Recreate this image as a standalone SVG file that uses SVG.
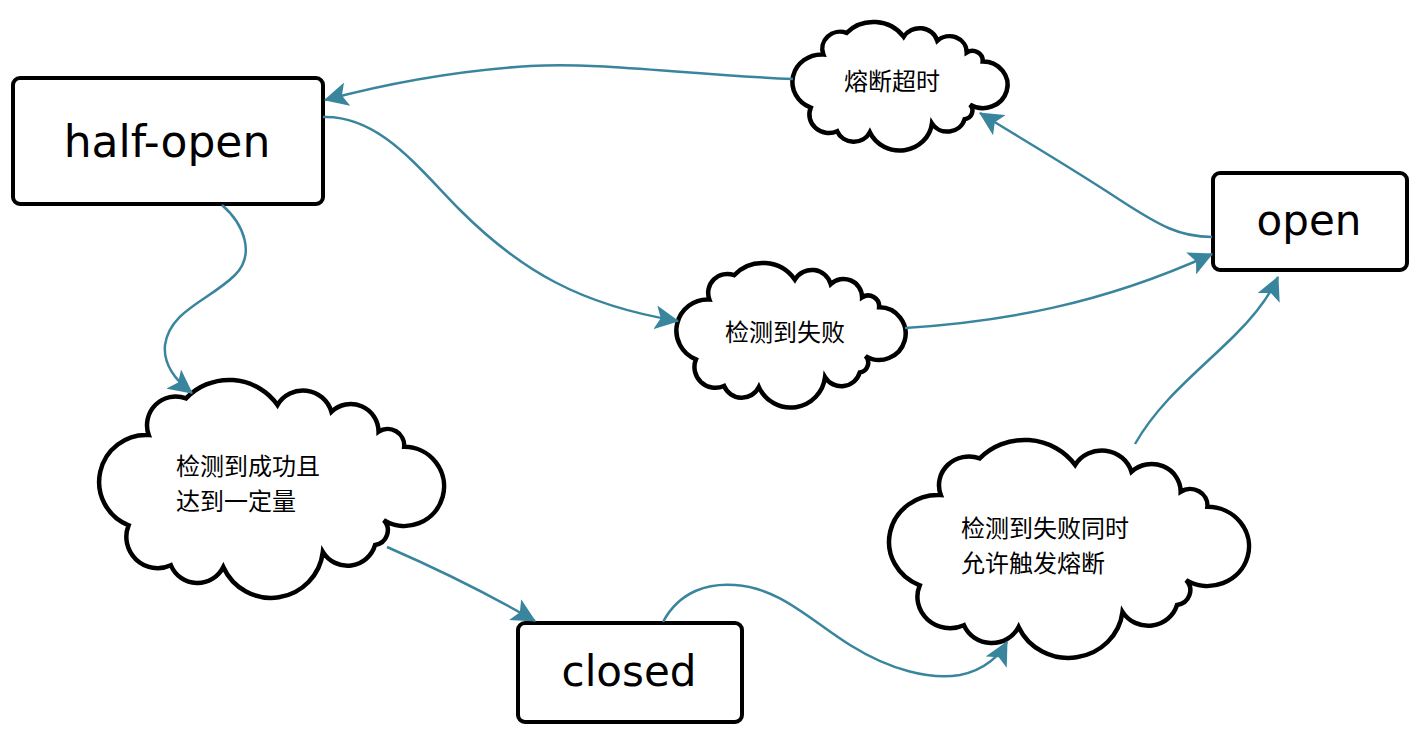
<svg xmlns="http://www.w3.org/2000/svg" xmlns:xlink="http://www.w3.org/1999/xlink" width="1422" height="741" viewBox="0 0 1422 741">
  <style>
    .box { fill: #ffffff; stroke: #000000; stroke-width: 4; }
    .cloud { fill: #ffffff; stroke: #000000; stroke-width: 4.5; }
    .state { font-family: "DejaVu Sans", "Liberation Sans", sans-serif; fill: #000000; text-anchor: middle; }
    .label { font-family: "Noto Sans CJK SC", "Noto Sans", sans-serif; font-size: 24px; fill: #000000; }
    .edge { fill: none; stroke: #3a859e; stroke-width: 2.5; marker-end: url(#arrow); }
  </style>
  <defs>
    <marker id="arrow" viewBox="0 0 22 22" refX="21" refY="11" markerWidth="24" markerHeight="24" markerUnits="userSpaceOnUse" orient="auto">
      <path d="M0,0 L22,11 L0,22 L5,11 Z" fill="#3a859e"/>
    </marker>
    <path id="cloudShape" vector-effect="non-scaling-stroke" d="M19.4,83.7 A27,27 0 0 1 31,31.7 A16.5,16.5 0 0 1 52.4,10.6 A34,34 0 0 1 104.9,14.4 A17,17 0 0 1 135.9,18.3 A16,16 0 0 1 163,29.8 A9.5,9.5 0 0 1 177.7,38.5 A22.8,22.8 0 1 1 166,80.8 A8.5,8.5 0 0 1 161,95 A16.5,16.5 0 0 1 131,99 A30,30 0 0 1 73.8,107.7 A16.5,16.5 0 0 1 43.7,106.7 A18,18 0 0 1 19.4,83.7 Z"/>
  </defs>

  <g id="node-half-open">
    <rect class="box" x="13" y="78" width="310" height="126" rx="7"/>
    <text class="state" x="167" y="157" font-size="44">half-open</text>
  </g>
  <g id="node-open">
    <rect class="box" x="1213" y="173" width="194" height="97" rx="7"/>
    <text class="state" x="1309" y="235" font-size="42">open</text>
  </g>
  <g id="node-closed">
    <rect class="box" x="518" y="623" width="224" height="99" rx="7"/>
    <text class="state" x="629" y="686" font-size="42">closed</text>
  </g>
  <g id="node-timeout">
    <use href="#cloudShape" class="cloud" transform="translate(789.7,22) scale(1.086,1.024)"/>
    <text class="label" x="892" y="90" text-anchor="middle">熔断超时</text>
  </g>
  <g id="node-fail">
    <use href="#cloudShape" class="cloud" transform="translate(673.5,263) scale(1.157,1.152)"/>
    <text class="label" x="785" y="341" text-anchor="middle">检测到失败</text>
  </g>
  <g id="node-success">
    <use href="#cloudShape" class="cloud" transform="translate(94.8,380) scale(1.741,1.736)"/>
    <text class="label" x="176" y="475">检测到成功且</text>
    <text class="label" x="176" y="510">达到一定量</text>
  </g>
  <g id="node-trip">
    <use href="#cloudShape" class="cloud" transform="translate(884.5,440) scale(1.817,1.736)"/>
    <text class="label" x="961" y="537">检测到失败同时</text>
    <text class="label" x="961" y="572">允许触发熔断</text>
  </g>

  <g id="connectors">
    <path class="edge" d="M793,79 C680,74 600,62 530,66 C450,71 385,84 325,100"/>
    <path class="edge" d="M1212,237 C1180,237 1160,226 1120,200 C1070,167 1020,138 980,113"/>
    <path class="edge" d="M323,117 C380,115 420,170 460,210 C520,270 580,305 678,321"/>
    <path class="edge" d="M905,328 C1000,322 1100,305 1212,254"/>
    <path class="edge" d="M222,205 C245,225 255,255 235,275 C210,300 170,310 165,345 C163,365 175,380 192,393"/>
    <path class="edge" d="M387,547 C440,570 490,595 535,621"/>
    <path class="edge" d="M663,622 C680,590 710,583 735,585 C780,588 810,620 850,645 C890,670 930,680 960,675 C985,670 1000,655 1007,642"/>
    <path class="edge" d="M1135,444 C1160,400 1200,370 1235,335 C1255,315 1270,295 1278,277"/>
  </g>
</svg>
